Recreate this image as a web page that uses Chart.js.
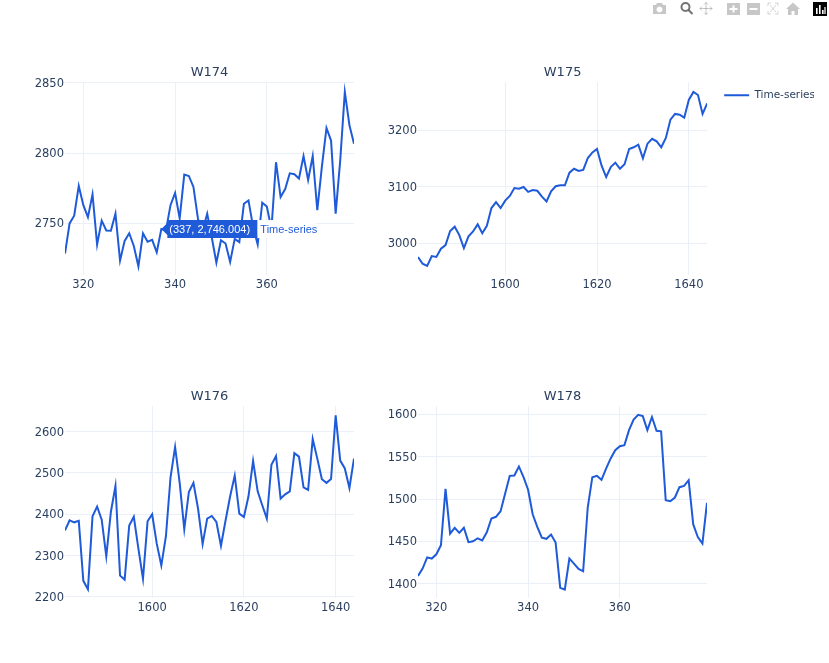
<!DOCTYPE html>
<html>
<head>
<meta charset="utf-8">
<title>Time-series</title>
<script src="https://cdn.jsdelivr.net/npm/chart.js@4/dist/chart.umd.min.js"></script>
<style>
    html, body { margin: 0; padding: 0; background: #fff; }
    canvas { position: absolute; }
    #modebar { position: absolute; left: 0; top: 0; }
</style>
</head>
<body>
<svg id="modebar" width="829" height="18">
    <g fill="#444" fill-opacity="0.3" stroke="none">
        <path d="M653 5h3l1-2h5l1 2h3v9h-13z M659.5 6.5a3 3 0 1 0 .01 0z" fill-rule="evenodd"/>
        <path d="M727 3h13v12h-13z M732.5 5.5v2.5h-3v2h3v2.5h2v-2.5h3v-2h-3v-2.5z" fill-rule="evenodd"/>
        <path d="M747 3h13v12h-13z M749.5 8v2h8v-2z" fill-rule="evenodd"/>
        <path d="M793 2.5l7 6.5h-2v6h-3.5v-4h-3v4h-3.5v-6h-2z"/>
    </g>
    <g fill="none" stroke="#444" stroke-opacity="0.75" stroke-width="2">
        <circle cx="685.5" cy="7" r="4"/>
        <path d="M688.5 10l4 4"/>
    </g>
    <path d="M706 2.5v12M700 8.5h12M704 4.5l2-2 2 2M704 12.5l2 2 2-2M702 6.5l-2 2 2 2M710 6.5l2 2-2 2" fill="none" stroke="#444" stroke-opacity="0.3" stroke-width="1"/>
    <path d="M768 3h3M768 3v3M778 3h-3M778 3v3M768 14h3M768 14v-3M778 14h-3M778 14v-3M770 5l6 7M776 5l-6 7" fill="none" stroke="#444" stroke-opacity="0.22" stroke-width="1"/>
    <rect x="813" y="2" width="14" height="14" fill="#000"/>
    <path d="M816 8h1.6v6h-1.6z M819 5h1.6v9h-1.6z M822 10h1.6v4h-1.6z M824.4 7h1.2v7h-1.2z" fill="#fff"/>
</svg>
<canvas id="w174"></canvas>
<canvas id="w175"></canvas>
<canvas id="w176"></canvas>
<canvas id="w178"></canvas>
<script>
(function() {
    "use strict";

    var lowWeeks = [316, 317, 318, 319, 320, 321, 322, 323, 324, 325, 326, 327, 328, 329, 330, 331,
        332, 333, 334, 335, 336, 337, 338, 339, 340, 341, 342, 343, 344, 345, 346, 347,
        348, 349, 350, 351, 352, 353, 354, 355, 356, 357, 358, 359, 360, 361, 362, 363,
        364, 365, 366, 367, 368, 369, 370, 371, 372, 373, 374, 375, 376, 377, 378, 379];

    var highWeeks = [1581, 1582, 1583, 1584, 1585, 1586, 1587, 1588, 1589, 1590, 1591, 1592, 1593, 1594, 1595, 1596,
        1597, 1598, 1599, 1600, 1601, 1602, 1603, 1604, 1605, 1606, 1607, 1608, 1609, 1610, 1611, 1612,
        1613, 1614, 1615, 1616, 1617, 1618, 1619, 1620, 1621, 1622, 1623, 1624, 1625, 1626, 1627, 1628,
        1629, 1630, 1631, 1632, 1633, 1634, 1635, 1636, 1637, 1638, 1639, 1640, 1641, 1642, 1643, 1644];

    var w174 = [2728.6, 2750, 2755.5, 2776.7, 2763, 2754.5, 2770.7, 2735, 2752, 2745, 2744.8, 2757, 2723.6, 2737.6, 2743, 2734,
        2719.5, 2743, 2737, 2738.3, 2729.5, 2746.004, 2745, 2763, 2771.7, 2753.6, 2784.8, 2783.8, 2776, 2753, 2745, 2757,
        2740, 2722, 2738, 2735.7, 2722.6, 2739, 2736.7, 2764, 2766.4, 2747.6, 2735, 2764.8, 2762, 2746, 2793.6, 2768.8,
        2774.5, 2785.7, 2785, 2782, 2798, 2781, 2798, 2759.5, 2790.5, 2818, 2809, 2757, 2795, 2843.6, 2820, 2806.7];

    var w175 = [2975.8, 2964, 2960, 2977.6, 2976, 2990.6, 2997, 3021.8, 3029.5, 3014.7, 2991.7, 3012.4, 3021, 3033.6, 3018, 3031,
        3062.5, 3073, 3062.5, 3075.5, 3084, 3098, 3096.8, 3099.7, 3091, 3094.4, 3093, 3082.6, 3074, 3092, 3101, 3102.7,
        3102.7, 3125, 3132, 3128, 3130, 3151, 3161, 3167, 3137.5, 3117.4, 3135, 3142.8, 3132, 3140, 3167, 3170,
        3174.6, 3150.4, 3176.4, 3185, 3180.5, 3170, 3186.4, 3219, 3229, 3227.7, 3222.4, 3253.7, 3267.8, 3262.5, 3229, 3247.8];

    var w176 = [2361, 2385.5, 2380.6, 2384, 2239, 2218.5, 2395, 2418.6, 2387, 2298, 2405.6, 2468.5, 2251.6, 2242, 2373, 2394,
        2317, 2244, 2383, 2400, 2329, 2276, 2347, 2489, 2563, 2476, 2364, 2454, 2476, 2414, 2328, 2389.5,
        2396, 2381.5, 2324, 2385, 2443.5, 2493.5, 2401.6, 2393.5, 2443.5, 2529, 2455.6, 2421.8, 2389.5, 2520, 2541, 2438,
        2448.4, 2455.6, 2548, 2539.5, 2465, 2459, 2582, 2534.7, 2484.7, 2476, 2485.5, 2639.5, 2530, 2511, 2463.7, 2534.7];

    var w178 = [1409, 1417.8, 1431, 1429.6, 1434.7, 1445.4, 1512, 1459, 1466, 1460, 1466, 1449, 1450, 1453.6, 1451, 1460.7,
        1477, 1479, 1485.6, 1506.5, 1527.4, 1527.8, 1538.5, 1526, 1511, 1482, 1467, 1454.4, 1453, 1458, 1448.5, 1395,
        1393, 1429.6, 1423.7, 1417.4, 1414.6, 1490, 1525.8, 1527.4, 1522.7, 1536, 1548, 1557.8, 1562.5, 1563.7, 1581.5, 1594,
        1599.6, 1598, 1581.5, 1597, 1580.7, 1580, 1498.6, 1497.4, 1501.8, 1514, 1515.6, 1522.3, 1470, 1455, 1447.3, 1495.5];

    var lowTicks = [320, 340, 360];
    var highTicks = [1600, 1620, 1640];
    var w174Ticks = [2750, 2800, 2850];
    var w175Ticks = [3000, 3100, 3200];
    var w176Ticks = [2200, 2300, 2400, 2500, 2600];
    var w178Ticks = [1400, 1450, 1500, 1550, 1600];

    var seriesName = "Time-series";
    var lineColor = "#1f5bd8";
    var textColor = "#2a3f5f";
    var gridColor = "#ebf0f8";
    var hoverIndex = 21;

    Chart.defaults.font.family = "'DejaVu Sans', Verdana, sans-serif";
    Chart.defaults.color = textColor;

    function pinTicks(values) {
        return function(scale) {
            scale.ticks = values.map(function(v) {
                return { value: v };
            });
        };
    }

    // hover label of the first panel, hung on the hovered point
    var hoverLabel = {
        id: "hoverLabel",
        afterDraw: function(chart) {
            var ctx = chart.ctx;
            var px = chart.scales.x.getPixelForValue(lowWeeks[hoverIndex]);
            var py = chart.scales.y.getPixelForValue(w174[hoverIndex]);
            var text = "(" + lowWeeks[hoverIndex] + ", " + w174[hoverIndex].toLocaleString("en-US", { minimumFractionDigits: 3 }) + ")";

            ctx.save();
            ctx.font = "11px 'Liberation Sans', Arial, sans-serif";
            ctx.textBaseline = "middle";
            ctx.fillStyle = "#fff";
            ctx.fillRect(px + 96, py - 9, 59, 18);
            ctx.fillStyle = lineColor;
            ctx.beginPath();
            ctx.moveTo(px, py);
            ctx.lineTo(px + 6, py - 6);
            ctx.lineTo(px + 6, py - 9);
            ctx.lineTo(px + 96, py - 9);
            ctx.lineTo(px + 96, py + 9);
            ctx.lineTo(px + 6, py + 9);
            ctx.lineTo(px + 6, py + 6);
            ctx.closePath();
            ctx.fill();
            ctx.fillStyle = "#fff";
            ctx.textAlign = "left";
            ctx.fillText(text, px + 8, py + 0.5);
            ctx.fillStyle = lineColor;
            ctx.fillText(seriesName, px + 99, py + 0.5);
            ctx.restore();
        }
    };

    // the legend sits a little clear of the plot, as in the source layout
    var legendGap = {
        id: "legendGap",
        afterLayout: function(chart) {
            chart.legend.left += 11;
            chart.legend.top += 2;
        }
    };

    function drawPanel(id, box, title, weeks, values, xRange, yRange, xTicks, yTicks, showLegend, extra) {
        var canvas = document.getElementById(id);
        canvas.style.left = box[0] + "px";
        canvas.style.top = box[1] + "px";
        canvas.style.width = box[2] + "px";
        canvas.style.height = box[3] + "px";
        canvas.width = box[2];
        canvas.height = box[3];

        return new Chart(canvas, {
            type: "line",
            data: {
                labels: weeks,
                datasets: [{
                    label: seriesName,
                    data: values,
                    borderColor: lineColor,
                    backgroundColor: lineColor,
                    borderWidth: 2,
                    pointRadius: 0,
                    tension: 0
                }]
            },
            options: {
                responsive: false,
                animation: false,
                events: [],
                layout: { padding: 0 },
                plugins: {
                    tooltip: { enabled: false },
                    title: {
                        display: true,
                        text: title,
                        fullSize: false,
                        color: textColor,
                        font: { size: 13, weight: "normal" },
                        padding: { top: 3, bottom: 1.4 }
                    },
                    legend: {
                        display: showLegend,
                        position: "right",
                        align: "start",
                        fullSize: false,
                        labels: {
                            boxWidth: 25,
                            boxHeight: 0,
                            padding: 6,
                            color: textColor,
                            font: { size: 10.5 }
                        }
                    }
                },
                scales: {
                    x: {
                        type: "linear",
                        min: xRange[0],
                        max: xRange[1],
                        afterBuildTicks: pinTicks(xTicks),
                        afterFit: function(scale) { scale.height = 25; },
                        border: { display: false },
                        grid: { color: gridColor, drawTicks: false },
                        ticks: {
                            maxRotation: 0,
                            padding: 3,
                            font: { size: 11.5 },
                            callback: function(v) { return String(v); }
                        }
                    },
                    y: {
                        min: yRange[0],
                        max: yRange[1],
                        afterBuildTicks: pinTicks(yTicks),
                        afterFit: function(scale) { scale.width = 40; },
                        border: { display: false },
                        grid: { color: gridColor, drawTicks: false },
                        ticks: {
                            padding: 1,
                            labelOffset: 1,
                            font: { size: 11.5 },
                            callback: function(v) { return String(v); }
                        }
                    }
                }
            },
            plugins: extra ? [extra] : []
        });
    }

    drawPanel("w174", [25, 62, 329, 238], "W174", lowWeeks, w174, [316, 379], [2713.3, 2850.7], lowTicks, w174Ticks, false, hoverLabel);
    drawPanel("w175", [378, 62, 436, 238], "W175", highWeeks, w175, [1581, 1644], [2944, 3285.5], highTicks, w175Ticks, true, legendGap);
    drawPanel("w176", [25, 386, 329, 237], "W176", highWeeks, w176, [1581, 1644], [2197.5, 2662], highTicks, w176Ticks, false);
    drawPanel("w178", [378, 386, 329, 237], "W178", lowWeeks, w178, [316, 379], [1383, 1610], lowTicks, w178Ticks, false);
})();
</script>
</body>
</html>
